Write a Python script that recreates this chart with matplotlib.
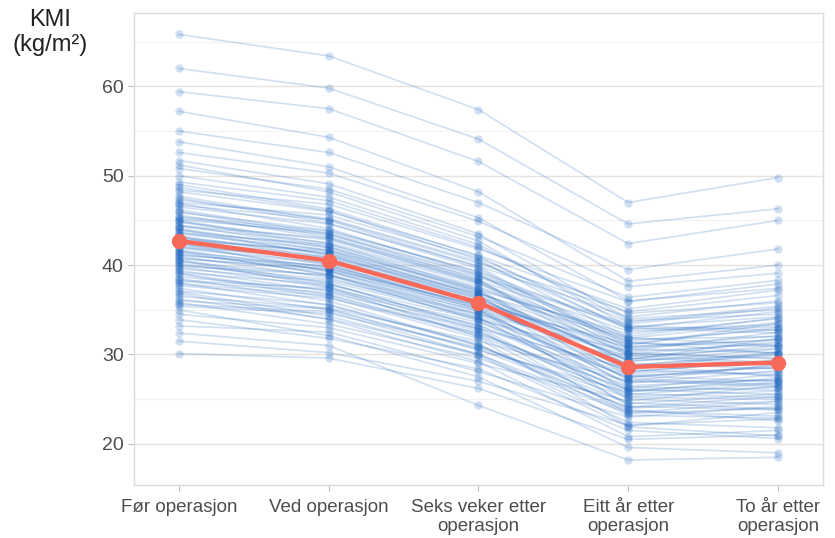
import matplotlib.pyplot as plt
import numpy as np

# --- data ---
timepoints = ['Før operasjon', 'Ved operasjon', 'Seks veker etter\noperasjon',
              'Eitt år etter\noperasjon', 'To år etter\noperasjon']

# individual patients (one value per patient, same order in every list)
bmi_pre = [30.1, 31.5, 32.4, 33.2, 33.9, 34.5, 35.0, 35.4, 35.8, 36.2,
           36.5, 36.8, 37.1, 37.4, 37.7, 38.0, 38.2, 38.5, 38.7, 39.0,
           39.2, 39.4, 39.6, 39.8, 40.0, 40.2, 40.4, 40.6, 40.8, 41.0,
           41.2, 41.4, 41.5, 41.7, 41.9, 42.1, 42.3, 42.5, 42.7, 42.9,
           43.1, 43.3, 43.5, 43.7, 43.9, 44.1, 44.3, 44.5, 44.8, 45.0,
           45.3, 45.6, 45.9, 46.2, 46.5, 46.9, 47.3, 47.7, 48.2, 48.7,
           49.3, 50.0, 50.8, 51.7, 52.6, 53.8, 55.0, 57.2, 59.4, 62.0, 65.8,
           36.0, 37.0, 38.3, 39.1, 39.9, 40.5, 41.1, 41.6, 42.0,
           42.4, 42.8, 43.2, 43.6, 44.0, 44.4, 44.9, 45.4, 46.0, 46.7,
           47.5, 48.4, 49.0, 35.6, 37.9, 40.7, 43.0, 45.1, 47.0, 51.2]
bmi_op = [29.6, 30.2, 31.0, 32.5, 31.8, 33.0, 32.1, 34.6, 33.4, 34.0,
          35.2, 33.9, 35.6, 35.0, 36.3, 35.5, 36.9, 36.0, 37.2, 36.4,
          37.8, 37.1, 38.2, 37.5, 38.4, 37.9, 38.8, 38.0, 39.3, 38.6,
          39.5, 39.0, 39.8, 39.4, 40.2, 39.7, 40.6, 40.0, 41.0, 40.4,
          41.4, 40.8, 41.7, 41.2, 42.0, 41.6, 42.5, 41.9, 42.8, 42.4,
          43.4, 43.0, 43.9, 43.5, 44.6, 44.1, 45.2, 45.0, 46.0, 46.1,
          47.2, 47.6, 48.5, 49.1, 50.3, 51.0, 52.6, 54.3, 57.5, 59.8, 63.4,
          35.1, 34.3, 37.4, 36.7, 38.9, 37.6, 39.9, 38.9, 40.9,
          39.3, 41.6, 40.1, 42.3, 41.1, 43.0, 42.1, 43.8, 43.2, 45.1,
          44.7, 46.8, 46.3, 34.8, 36.6, 39.6, 41.3, 43.6, 45.6, 48.2]
bmi_6w = [26.2, 27.0, 24.3, 28.1, 28.4, 29.0, 27.5, 30.8, 29.6, 30.1,
          31.5, 29.2, 31.0, 30.5, 32.4, 31.2, 32.9, 31.0, 33.3, 31.8,
          33.9, 32.6, 34.1, 32.0, 34.5, 33.2, 34.6, 33.0, 35.2, 34.0,
          35.5, 34.2, 35.4, 34.8, 36.0, 35.0, 36.3, 35.1, 36.8, 35.7,
          36.9, 36.0, 37.4, 36.4, 37.6, 36.6, 38.1, 37.0, 38.3, 37.3,
          38.8, 38.0, 39.2, 38.4, 39.9, 39.0, 40.4, 39.8, 41.1, 40.6,
          42.0, 42.3, 43.2, 43.5, 44.9, 45.3, 47.0, 48.2, 51.6, 54.1, 57.4,
          30.6, 29.9, 33.6, 32.3, 34.9, 32.8, 35.8, 33.8, 36.5,
          34.4, 37.2, 35.3, 37.9, 36.2, 38.6, 37.1, 39.3, 38.2, 40.2,
          39.6, 41.8, 41.0, 30.0, 32.1, 35.6, 36.7, 38.9, 40.8, 42.7]
bmi_1y = [20.5, 22.1, 18.2, 23.0, 21.5, 24.8, 19.6, 25.2, 23.5, 22.4,
          27.0, 20.8, 24.6, 25.8, 26.1, 23.2, 28.4, 24.0, 26.9, 22.0,
          29.5, 25.3, 27.7, 23.8, 30.4, 26.4, 28.1, 24.5, 29.0, 26.2,
          31.2, 25.0, 28.8, 27.3, 30.0, 26.8, 29.6, 24.2, 31.8, 27.9,
          30.6, 26.5, 32.0, 28.3, 30.9, 27.1, 31.5, 29.2, 32.6, 28.0,
          33.4, 29.9, 31.7, 28.7, 34.2, 30.3, 33.0, 31.0, 35.1, 31.9,
          34.6, 33.8, 36.4, 34.0, 37.6, 36.0, 39.5, 38.2, 42.4, 44.6, 47.0,
          24.1, 21.9, 27.5, 26.0, 29.8, 23.4, 30.8, 25.6, 30.2,
          27.4, 32.3, 25.9, 31.3, 29.4, 33.2, 27.6, 32.9, 30.1, 34.8,
          30.7, 35.9, 32.8, 23.7, 25.5, 28.9, 29.3, 31.4, 33.6, 33.1]
bmi_2y = [21.0, 22.8, 18.5, 24.2, 20.6, 26.5, 19.0, 25.0, 24.7, 21.8,
          28.9, 21.5, 23.9, 27.4, 25.5, 22.9, 30.2, 24.8, 27.1, 23.5,
          31.0, 25.9, 28.0, 22.6, 32.5, 26.0, 29.3, 25.6, 28.4, 27.8,
          33.0, 24.4, 29.9, 26.6, 31.4, 28.2, 29.0, 23.8, 33.6, 28.5,
          30.2, 27.2, 34.1, 27.7, 31.6, 26.4, 32.8, 30.6, 33.1, 29.4,
          35.2, 29.1, 32.0, 30.3, 36.0, 31.2, 32.4, 33.5, 37.2, 31.0,
          35.8, 34.5, 38.3, 35.0, 39.1, 37.4, 41.8, 40.0, 45.0, 46.3, 49.8,
          25.3, 20.9, 28.6, 26.9, 30.7, 24.0, 32.1, 25.2, 29.6,
          28.8, 34.0, 26.3, 30.9, 31.8, 32.7, 27.0, 34.8, 29.5, 36.6,
          31.7, 37.9, 33.3, 23.1, 26.8, 27.5, 30.0, 30.1, 35.4, 34.2]

# mean trajectory
bmi_mean = [42.7, 40.5, 35.8, 28.6, 29.1]

# --- plot ---
plt.rcParams['font.family'] = ['Liberation Sans', 'DejaVu Sans']

fig = plt.figure(figsize=(8.35, 5.38), dpi=100)
ax = fig.add_axes([0.1605, 0.0985, 0.825, 0.8773])

x = np.arange(len(timepoints))
patients = np.array([bmi_pre, bmi_op, bmi_6w, bmi_1y, bmi_2y])

blue = '#1560bd'
for k in range(patients.shape[1]):
    ax.plot(x, patients[:, k], color=blue, alpha=0.2, linewidth=1.2,
            marker='o', markersize=6, markeredgewidth=0, zorder=2)

ax.plot(x, bmi_mean, color='#f8695a', linewidth=3.2, marker='o',
        markersize=10, zorder=5)

ax.set_xlim(-0.3, 4.3)
ax.set_ylim(15.4, 68.2)
ax.set_xticks(x)
ax.set_xticklabels(timepoints, fontsize=13.5, color='#4d4d4d', linespacing=1.15)
ax.set_yticks([20, 30, 40, 50, 60])
ax.set_yticks([25, 35, 45, 55, 65], minor=True)
ax.tick_params(axis='y', labelsize=14, labelcolor='#4d4d4d')
ax.tick_params(axis='x', pad=6)
ax.tick_params(which='both', color='#bdbdbd', length=4, width=0.8)
ax.tick_params(which='minor', length=0)

ax.grid(axis='y', which='major', color='#e6e3df', linewidth=1.0, zorder=0)
ax.grid(axis='y', which='minor', color='#f4f2f0', linewidth=0.8, zorder=0)
ax.set_axisbelow(True)
for s in ax.spines.values():
    s.set_color('#dedad5')
    s.set_linewidth(1.0)

fig.text(0.06, 0.963, 'KMI', ha='center', va='center', fontsize=17, color='#222222')
fig.text(0.06, 0.916, '(kg/m²)', ha='center', va='center', fontsize=17, color='#222222')

plt.savefig('out.png', dpi=100)
